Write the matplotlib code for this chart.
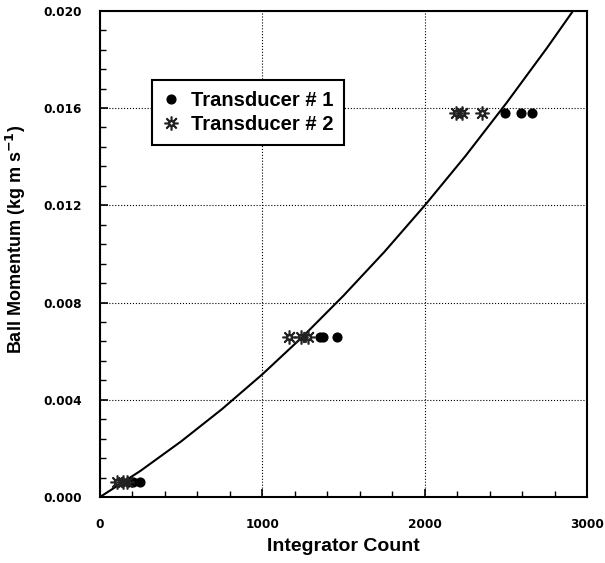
import numpy as np
import matplotlib.pyplot as plt
from matplotlib.ticker import MultipleLocator

# Datos
t1_count = [175, 205, 246, 1355, 1375, 1460, 2492, 2589, 2658]
t1_mom = [0.00062, 0.00062, 0.00062, 0.00658, 0.00658, 0.00658, 0.0158, 0.0158, 0.0158]
t2_count = [103, 142, 170, 1165, 1235, 1282, 2191, 2226, 2349]
t2_mom = [0.00062, 0.00062, 0.00062, 0.00658, 0.00658, 0.00658, 0.0158, 0.0158, 0.0158]

# Curva de calibración (puntos leídos)
fit_count = [0, 250, 500, 750, 1000, 1250, 1500, 1750, 2000, 2250, 2500, 2750, 2910]
fit_mom = [0.0, 0.00108, 0.00229, 0.00361, 0.00505, 0.00661, 0.00829, 0.01008,
           0.0120, 0.01403, 0.01619, 0.01846, 0.01998]

plt.rcParams['font.family'] = ['Liberation Sans', 'DejaVu Sans']

fig = plt.figure(figsize=(6.05, 5.63), dpi=100)
ax = fig.add_axes([0.165, 0.117, 0.806, 0.864])

ax.plot(fit_count, fit_mom, color='black', lw=1.5, zorder=3)
ax.plot(t1_count, t1_mom, 'o', color='black', ms=6.3, ls='none', label='Transducer # 1', zorder=4)
ax.plot(t2_count, t2_mom, ls='none', marker='$\u263C$', color='#222222', ms=9.5,
        label='Transducer # 2', zorder=4)

ax.set_xlim(0, 3000)
ax.set_ylim(0, 0.020)
ax.xaxis.set_major_locator(MultipleLocator(1000))
ax.xaxis.set_minor_locator(MultipleLocator(200))
ax.yaxis.set_major_locator(MultipleLocator(0.004))
ax.yaxis.set_minor_locator(MultipleLocator(0.0008))
ax.yaxis.set_major_formatter(plt.FormatStrFormatter('%.3f'))

ax.tick_params(which='both', direction='in', top=False, right=False)
ax.tick_params(which='major', length=6, width=1.2, labelsize=8.7)
ax.tick_params(axis='x', which='major', pad=15)
ax.tick_params(axis='y', which='major', pad=13)
ax.tick_params(which='minor', length=4, width=1)
for lbl in ax.get_xticklabels() + ax.get_yticklabels():
    lbl.set_fontweight('bold')
    lbl.set_fontfamily('DejaVu Sans')

ax.grid(True, which='major', color='black', ls=':', lw=0.8)
for s in ax.spines.values():
    s.set_linewidth(1.5)

ax.set_xlabel('Integrator Count', fontsize=14, fontweight='bold')
ax.set_ylabel('Ball Momentum (kg m s$^{\\mathbf{-1}}$)', fontsize=13, fontweight='bold')
ax.xaxis.set_label_coords(0.5, -0.085)
ax.yaxis.set_label_coords(-0.148, 0.53)

leg = ax.legend(loc='upper left', bbox_to_anchor=(0.108, 0.857), fancybox=False,
                framealpha=1, edgecolor='black', prop={'weight': 'bold', 'size': 14.5},
                handletextpad=0.65, borderpad=0.55, handlelength=0.7, labelspacing=0.25,
                borderaxespad=0)
leg.get_frame().set_linewidth(1.5)

plt.savefig('out.png', dpi=100)
